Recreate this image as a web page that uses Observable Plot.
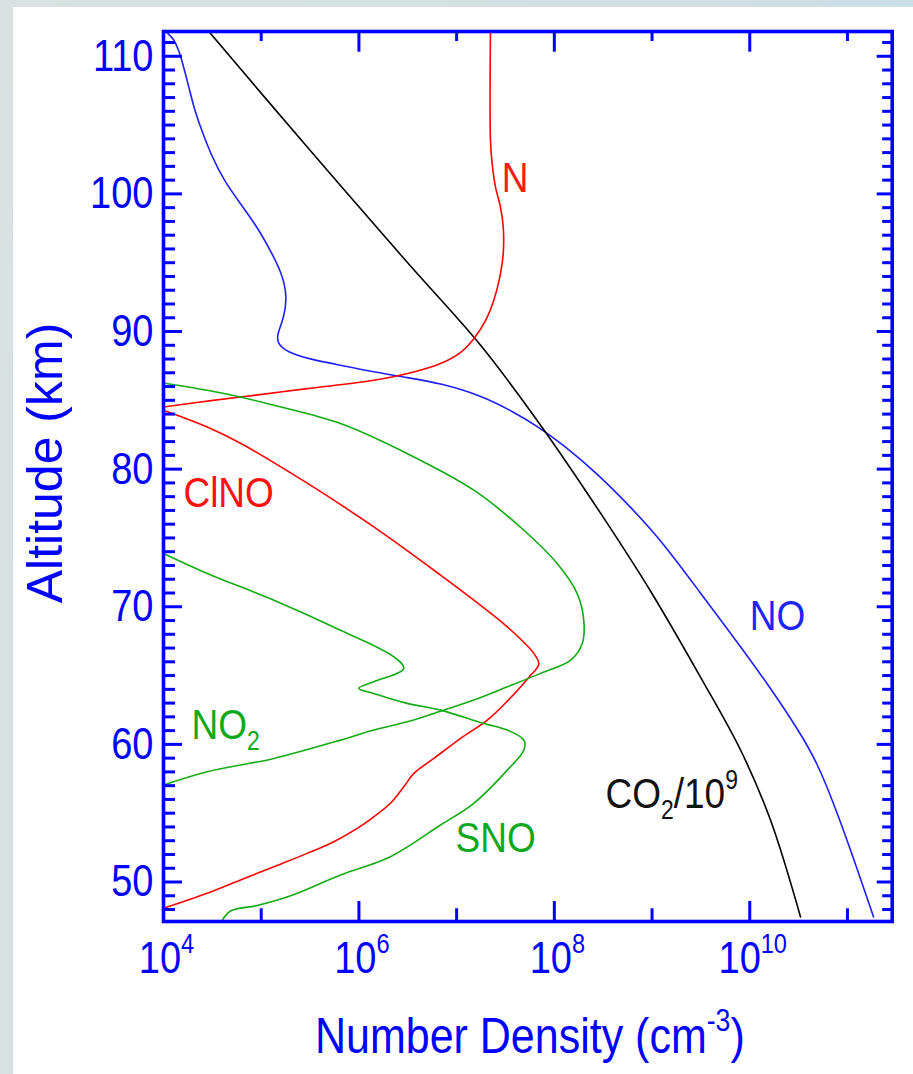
<!DOCTYPE html>
<html><head><meta charset="utf-8">
<script src="https://cdn.jsdelivr.net/npm/d3@7"></script>
<script src="https://cdn.jsdelivr.net/npm/@observablehq/plot@0.6"></script>
<style>
html,body{margin:0;padding:0;}
body{width:913px;height:1074px;overflow:hidden;position:relative;background:linear-gradient(100deg,#d9e1e1 0%,#d2e0e3 60%,#c4dee6 100%);font-family:"Liberation Sans",Arial,sans-serif;}
#panel{position:absolute;left:13px;top:7px;right:0;bottom:0;background:#fff;}
#chart{position:absolute;left:0;top:0;}
</style></head><body><div id="panel"></div><div id="chart"></div>
<script>
// ---- data (number density in cm^-3, altitude in km) ----
const NO_density = [1.05e4,1.13e4,1.27e4,1.44e4,1.61e4,1.82e4,2.04e4,2.39e4,3.03e4,4.14e4,6.14e4,9.1e4,1.24e5,1.64e5,1.85e5,1.70e5,1.46e5,1.46e5,1.85e5,2.96e5,6.48e5,1.42e6,3.12e6,6.84e6,1.76e7,3.85e7,6.93e7,1.25e8,2.75e8,6.03e8,1.32e9,3.13e9,6.82e9,1.51e10,3.30e10,4.91e10,7.21e10,1.08e11,1.85e11];
const NO_altitude = [111.8,111.6,111.27,110.42,109.21,107.76,106.30,104.85,102.92,100.98,99.29,97.59,95.90,94.20,92.51,90.94,89.85,89.12,88.51,88.03,87.55,87.06,86.65,86.24,85.37,84.15,83.06,81.74,79.68,77.26,74.60,70.99,67.79,64.45,60.82,58.64,55.74,52.32,47.46];

const CO2_density = [2.91e4,2.96e5,3.12e6,1.76e7,7.23e7,2.97e8,9.66e8,3.13e9,8.05e9,1.63e10,3.31e10];
const CO2_altitude = [111.8,103.40,95.03,89.00,83.19,76.80,71.13,64.89,59.59,54.50,47.46];

const N_density = [2.22e7,2.22e7,2.31e7,2.50e7,2.81e7,3.00e7,3.00e7,2.81e7,2.40e7,1.98e7,1.50e7,1.10e7,6.84e6,3.65e6,1.42e6,2.96e5,6.14e4,2.39e4,1.0e4];
const N_altitude = [111.8,103.89,102.19,100.49,99.04,97.59,95.66,94.20,92.27,90.81,89.48,88.49,87.67,87.06,86.46,85.85,85.24,84.88,84.52];

const ClNO_density = [1.0e4,2.80e4,6.14e4,2.96e5,1.42e6,6.84e6,1.50e7,3.30e7,6.17e7,6.93e7,5.55e7,3.30e7,2.06e7,1.10e7,5.85e6,3.65e6,2.88e6,2.10e6,1.42e6,9.62e5,5.53e5,2.96e5,1.35e5,6.14e4,2.80e4,1.0e4];
const ClNO_altitude = [84.28,83.06,81.88,78.98,75.80,72.30,70.48,68.54,66.61,65.83,64.91,63.14,61.76,60.44,58.98,57.89,56.92,55.72,54.74,53.90,52.93,52.08,51.11,50.15,49.18,48.09];

const NO2_density = [1.0e4,2.80e4,6.14e4,1.35e5,6.48e5,3.12e6,1.50e7,4.88e7,1.07e8,1.71e8,2.00e8,1.93e8,1.47e8,7.23e7,3.30e7,1.50e7,5.85e6,3.12e6,1.42e6,6.48e5,1.35e5,2.80e4,1.0e4];
const NO2_altitude = [86.26,85.73,85.24,84.64,83.31,81.13,78.47,75.56,73.14,70.97,69.03,67.33,66.12,65.16,64.18,63.22,62.25,61.64,61.04,60.31,58.98,58.01,57.04];

const SNO_density = [3.93e4,4.85e4,9.1e4,2.0e5,6.48e5,2.10e6,6.84e6,1.50e7,3.30e7,4.88e7,4.88e7,3.30e7,1.90e7,6.84e6,3.12e6,1.42e6,9.98e5,1.42e6,2.88e6,2.28e6,6.48e5,1.35e5,2.80e4,1.0e4];
const SNO_altitude = [47.13,47.89,48.29,49.0,50.51,51.84,54.14,55.72,58.13,59.59,60.31,61.04,61.52,62.49,62.98,63.70,64.07,64.55,65.52,66.36,68.30,70.48,72.42,73.87];

// series labels drawn inside the plot
const labelText = ["N", "ClNO", "NO_{2}", "SNO", "NO", "CO_{2}/10^{9}"];
const labelDensity = [2.9e7, 1.6e4, 1.94e4, 9.75e6, 1.0e10, 3.34e8];
const labelAltitude = [101.18, 78.25, 61.37, 53.17, 69.30, 56.38];
const labelColor = ["#ff1a1a", "#ff1010", "#12a81e", "#12a81e", "#2222ff", "#111111"];

// axes
const xDomain = [1e4, 2.87e11];
const yDomain = [47.13, 111.8];
const xTickValues = [1e4, 1e6, 1e8, 1e10];
const xTickLabels = ["10^{4}", "10^{6}", "10^{8}", "10^{10}"];
const xLongTicks = [1e6, 1e8, 1e10];
const xShortTicks = [1e5, 1e7, 1e9, 1e11];
const yMajorTicks = [50, 60, 70, 80, 90, 100, 110];
const yTickLabels = ["50", "60", "70", "80", "90", "100", "110"];
const yMinorTicks = d3.range(48, 112).filter(v => v % 10 !== 0);
const xTitle = "Number Density (cm^{-3})";
const yTitle = "Altitude (km)";

// ---- layout ----
const W = 913, H = 1074;
const mL = 163, mR = 21.3, mT = 31, mB = 153;
const innerW = W - mL - mR, innerH = H - mT - mB;
const blue = "#0000ff";

const seriesList = [
  ["NO", NO_density, NO_altitude, "#1e1eff", "basis"],
  ["CO2", CO2_density, CO2_altitude, "#000000", "catmull-rom"],
  ["N", N_density, N_altitude, "#ff0000", "catmull-rom"],
  ["ClNO", ClNO_density, ClNO_altitude, "#ff0000", "catmull-rom"],
  ["NO2", NO2_density, NO2_altitude, "#14aa14", "catmull-rom"],
  ["SNO", SNO_density, SNO_altitude, "#14aa14", "catmull-rom"]
];
const lineMarks = seriesList.map(([name, d, a, c, curve]) =>
  Plot.line(d.map((v, i) => ({density: v, altitude: a[i]})),
    {x: "density", y: "altitude", stroke: c, strokeWidth: 1.6, curve, clip: true}));

const labels = labelText.map((t, i) => ({t, x: labelDensity[i], y: labelAltitude[i], c: labelColor[i]}));

const chart = Plot.plot({
  width: W, height: H,
  marginLeft: mL, marginRight: mR, marginTop: mT, marginBottom: mB,
  x: {type: "log", domain: xDomain, axis: null},
  y: {domain: yDomain, axis: null},
  style: {background: "transparent", fontFamily: "'Liberation Sans', Arial, sans-serif", overflow: "visible"},
  marks: [
    ...lineMarks,
    Plot.text(labels, {x: "x", y: "y", text: "t", fill: "c", textAnchor: "start", lineAnchor: "middle", fontSize: 37}),
    // inner ticks
    Plot.tickY(yMinorTicks, {y: d => d, insetRight: innerW - 12, stroke: blue, strokeWidth: 3}),
    Plot.tickY(yMajorTicks, {y: d => d, insetRight: innerW - 19, stroke: blue, strokeWidth: 3}),
    Plot.tickY(yMinorTicks, {y: d => d, insetLeft: innerW - 9.5, stroke: blue, strokeWidth: 3}),
    Plot.tickY(yMajorTicks, {y: d => d, insetLeft: innerW - 15, stroke: blue, strokeWidth: 3}),
    Plot.tickX(xLongTicks, {x: d => d, insetTop: innerH - 20, stroke: blue, strokeWidth: 3}),
    Plot.tickX(xShortTicks, {x: d => d, insetTop: innerH - 12.7, stroke: blue, strokeWidth: 3}),
    Plot.tickX(xLongTicks, {x: d => d, insetBottom: innerH - 20.7, stroke: blue, strokeWidth: 3}),
    Plot.tickX(xShortTicks, {x: d => d, insetBottom: innerH - 10, stroke: blue, strokeWidth: 3}),
    Plot.frame({stroke: blue, strokeWidth: 3.6}),
    // tick labels
    Plot.text(xTickValues, {x: d => d, text: (d, i) => xTickLabels[i], frameAnchor: "bottom", textAnchor: "middle", lineAnchor: "middle", dy: 37, dx: 3, fontSize: 38, fill: blue}),
    Plot.text(yMajorTicks, {y: d => d, text: (d, i) => yTickLabels[i], frameAnchor: "left", textAnchor: "end", lineAnchor: "middle", dx: -10, fontSize: 38, fill: blue}),
    // titles
    Plot.text([xTitle], {frameAnchor: "bottom", textAnchor: "middle", lineAnchor: "middle", dy: 115, dx: 2, fontSize: 43, fill: blue}),
    Plot.text([yTitle], {frameAnchor: "left", textAnchor: "middle", lineAnchor: "middle", rotate: -90, dx: -118, dy: -13.5, fontSize: 50, fill: blue})
  ]
});
document.getElementById("chart").appendChild(chart);

// rich text: ^{...} superscript, _{...} subscript; vertical stretch of horizontal texts
const SVGNS = "http://www.w3.org/2000/svg";
function richify(el, fs) {
  const s = el.textContent;
  if (!/[\^_]\{/.test(s)) return;
  const re = /(\^|_)\{([^}]*)\}/g;
  let last = 0, m, parts = [];
  while ((m = re.exec(s))) {
    if (m.index > last) parts.push({t: s.slice(last, m.index)});
    parts.push({t: m[2], k: m[1]});
    last = re.lastIndex;
  }
  if (last < s.length) parts.push({t: s.slice(last)});
  el.textContent = "";
  let shift = 0;
  for (const p of parts) {
    const ts = document.createElementNS(SVGNS, "tspan");
    const target = p.k === "^" ? -0.45 * fs : p.k === "_" ? 0.25 * fs : 0;
    if (target - shift !== 0) ts.setAttribute("dy", target - shift);
    shift = target;
    if (p.k) ts.setAttribute("font-size", 0.62 * fs);
    ts.textContent = p.t;
    el.appendChild(ts);
  }
}
const texts = Array.from(chart.querySelectorAll("text"));
texts.forEach(t => {
  if (t.textContent === yTitle) return;
  const fs = parseFloat(getComputedStyle(t).fontSize) || 37;
  richify(t, fs);
});
texts.forEach(t => {
  if (t.textContent === yTitle) return;
  const r = t.getBoundingClientRect();
  const p = chart.createSVGPoint();
  p.x = r.left + r.width / 2; p.y = r.top + r.height / 2;
  const ctm = t.parentNode.getScreenCTM();
  if (!ctm) return;
  const q = p.matrixTransform(ctm.inverse());
  const g = document.createElementNS(SVGNS, "g");
  g.setAttribute("transform", `translate(${q.x},${q.y}) scale(1,1.17) translate(${-q.x},${-q.y})`);
  t.parentNode.insertBefore(g, t);
  g.appendChild(t);
});
</script></body></html>
